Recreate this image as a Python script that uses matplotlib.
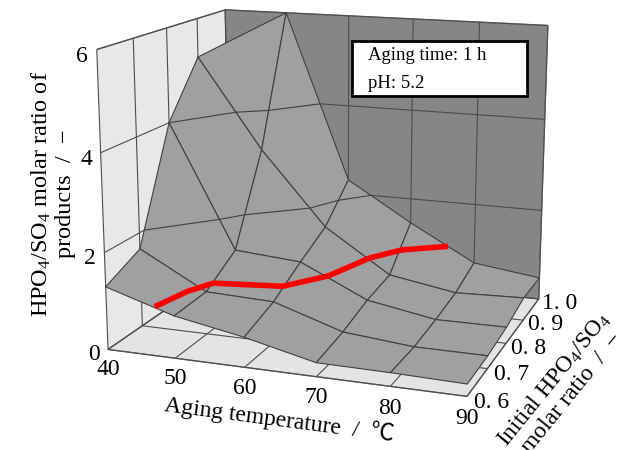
import numpy as np
import matplotlib
matplotlib.use("Agg")
import matplotlib.pyplot as plt
from matplotlib.patches import Rectangle

plt.rcParams["font.family"] = ["Liberation Serif", "Noto Sans CJK JP", "DejaVu Sans"]
plt.rcParams["mathtext.fontset"] = "custom"
plt.rcParams["mathtext.rm"] = "Liberation Serif"
plt.rcParams["mathtext.default"] = "rm"

temps = [40, 50, 60, 70, 80, 90]
ratios = [0.6, 0.7, 0.8, 0.9, 1.0]
product_ratio = [
    [1.30, 0.87, 0.61, 0.28, 0.27, 0.24],
    [1.66, 0.90, 0.85, 0.39, 0.26, 0.26],
    [4.00, 1.36, 1.25, 0.58, 0.33, 0.34],
    [5.16, 3.21, 1.61, 0.68, 0.44, 0.49],
    [5.25, 6.00, 2.31, 1.45, 0.67, 0.48],
]
z_ticks = [0, 2, 4, 6]
ratio_labels = ["0. 6", "0. 7", "0. 8", "0. 9", "1. 0"]

# red line, stays around a product ratio of 1
red_temp = [47.1, 48.4, 50.1, 59.8, 64.0, 66.8, 70.3, 75.9]
red_ratio = [0.602, 0.675, 0.721, 0.738, 0.804, 0.903, 0.949, 1.0]
red_value = [1.0, 1.0, 0.99, 1.0, 0.99, 1.0, 1.04, 0.99]

W, H = 623, 450
fig = plt.figure(figsize=(W / 100, H / 100), dpi=100)
# camera was fitted to the picture, axes square is bigger than the figure
ax = fig.add_axes([58.6 / W, -8.3 / H, 535.7 / W, 535.7 / H], projection="3d", computed_zorder=False)
ax.set_proj_type("persp", focal_length=0.533)
ax.view_init(elev=13.946, azim=-70.208, roll=0.014)
ax.set_box_aspect((1.218, 1, 0.995))
ax.set_xlim(40, 90, view_margin=0)
ax.set_ylim(0.6, 1.0, view_margin=0)
ax.set_zlim(0, 6, view_margin=0)
ax.patch.set_alpha(0)

ax.xaxis.set_pane_color("#e8e8e8")
ax.yaxis.set_pane_color("#868686")
ax.zaxis.set_pane_color("#e4e4e4")
ax.set_xticks(temps)
ax.set_yticks(ratios)
ax.set_zticks(z_ticks)
for axis in [ax.xaxis, ax.yaxis, ax.zaxis]:
    axis.pane.set_edgecolor("#707070")
    axis.pane.set_linewidth(1.0)
    axis.line.set_color((0, 0, 0, 0))
    axis._axinfo["grid"].update(color="#4d4d4d", linewidth=0.8)
    # own labels below, the built in ones stay empty and hidden
    axis.set_major_formatter(plt.NullFormatter())
    axis.label.set_visible(False)
    axis.get_offset_text().set_visible(False)
    for tick in axis.get_major_ticks():
        tick.label1.set_visible(False)
        tick.label2.set_visible(False)
ax.tick_params(color=(0, 0, 0, 0))

X, Y = np.meshgrid(temps, ratios)
Z = np.array(product_ratio)
ax.plot_surface(X, Y, Z, rstride=1, cstride=1, color="#a0a0a0", shade=False,
                edgecolor="#404040", linewidth=0.8, zorder=1)
ax.contour(X, Y, Z, levels=[2, 4], colors="#404040", linewidths=0.8, zorder=2)
ax.plot(red_temp, red_ratio, red_value, color="#ff0000", lw=4, zorder=3, solid_capstyle="butt")

# tick labels
for t in temps:
    ax.text(t, 0.6, -0.43, str(t), ha="center", va="center", fontsize=17, zorder=5)
for r, lab in zip(ratios, ratio_labels):
    ax.text(93.2, r, -0.05, lab, ha="center", va="center", fontsize=17, zorder=5)
for v in z_ticks:
    ax.text(37.8, 0.6, v - 0.15, str(v), ha="center", va="center", fontsize=17, zorder=5)

fig.text(279 / W, 1 - 420 / H, "Aging temperature  /  ℃", rotation=-7.5, rotation_mode="anchor",
         ha="center", va="center", fontsize=17)
fig.text(53 / W, 1 - 194 / H, "HPO$_4$/SO$_4$ molar ratio of\nproducts  /  −", rotation=90,
         ha="center", va="center", fontsize=17.5, linespacing=1.1, multialignment="center")
fig.text(563 / W, 1 - 386 / H, "Initial HPO$_4$/SO$_4$\nmolar ratio  /  −", rotation=51, rotation_mode="anchor",
         ha="center", va="center", fontsize=17, linespacing=1.05, multialignment="center")

fig.add_artist(Rectangle((352 / W, 1 - 96 / H), 175 / W, 55 / H, transform=fig.transFigure,
                         facecolor="white", edgecolor="black", lw=2, zorder=5))
fig.text(368 / W, 1 - 56 / H, "Aging time: 1 h", va="center", fontsize=13.5, zorder=6)
fig.text(368 / W, 1 - 83 / H, "pH: 5.2", va="center", fontsize=13.5, zorder=6)

fig.savefig("out.png", dpi=100)
